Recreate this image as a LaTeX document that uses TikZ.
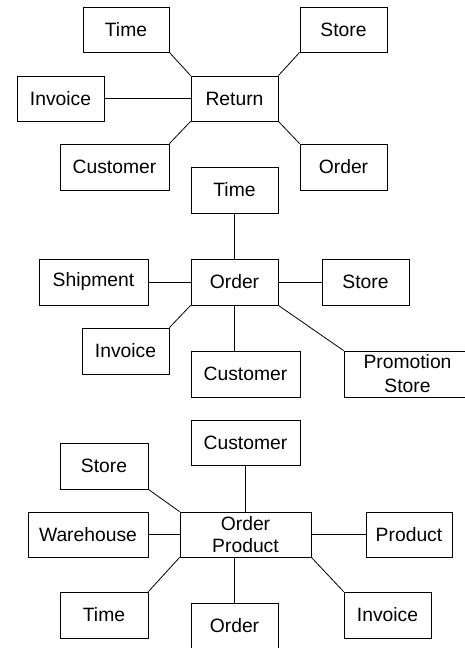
\documentclass[tikz,border=0pt]{standalone}
\usepackage{fontspec}
\setmainfont{Liberation Sans}
\begin{document}
\begin{tikzpicture}[x=1pt,y=-1pt,
  box/.style={draw=black, line width=0.8pt, rectangle, inner sep=0pt,
    align=center, font=\fontsize{19.3}{23}\selectfont},
  link/.style={draw=black, line width=0.8pt}]
\useasboundingbox (0,0) rectangle (465,648);
\clip (0,0) rectangle (465,648);

% Return star
\node[box, minimum width=86pt, minimum height=45pt] (t1) at (126,29.5) {Time};
\node[box, minimum width=87pt, minimum height=45pt] (s1) at (343.5,29.5) {Store};
\node[box, minimum width=87pt, minimum height=45pt] (i1) at (60.5,98.5) {Invoice};
\node[box, minimum width=87pt, minimum height=45pt] (r1) at (234.5,98.5) {Return};
\node[box, minimum width=109pt, minimum height=46pt] (c1) at (114.5,167) {Customer};
\node[box, minimum width=87pt, minimum height=46pt] (o1) at (343.5,167) {Order};
\draw[link] (t1.south east) -- (r1.north west);
\draw[link] (s1.south west) -- (r1.north east);
\draw[link] (i1.east) -- (r1.west);
\draw[link] (c1.north east) -- (r1.south west);
\draw[link] (o1.north west) -- (r1.south east);

% Order star
\node[box, minimum width=87pt, minimum height=46pt] (t2) at (234.5,190) {Time};
\node[box, minimum width=87pt, minimum height=46pt] (o2) at (234.5,282) {Order};
\node[box, minimum width=109pt, minimum height=46pt] (sh2) at (93.5,282) {Shipment};
\node[box, minimum width=87pt, minimum height=46pt] (s2) at (365.5,282) {Store};
\node[box, minimum width=87pt, minimum height=46pt] (i2) at (125.5,351) {Invoice};
\node[box, minimum width=109pt, minimum height=46pt] (c2) at (245.5,374) {Customer};
\node[box, minimum width=127pt, minimum height=46pt, font=\fontsize{19.3}{24}\selectfont] (p2) at (407.5,374) {Promotion\\Store};
\draw[link] (t2.south) -- (o2.north);
\draw[link] (sh2.east) -- (o2.west);
\draw[link] (o2.east) -- (s2.west);
\draw[link] (i2.north east) -- (o2.south west);
\draw[link] (o2.south) -- (o2.south |- c2.north);
\draw[link] (o2.south east) -- (p2.north west);

% Order Product star
\node[box, minimum width=109pt, minimum height=45pt] (c3) at (245.5,442.5) {Customer};
\node[box, minimum width=88pt, minimum height=46pt] (s3) at (104,466) {Store};
\node[box, minimum width=131pt, minimum height=45pt, font=\fontsize{19.3}{22.4}\selectfont] (op3) at (245.5,534.5) {Order\\Product};
\node[box, minimum width=120pt, minimum height=45pt] (w3) at (88,534.5) {Warehouse};
\node[box, minimum width=86pt, minimum height=45pt] (pr3) at (409,534.5) {Product};
\node[box, minimum width=88pt, minimum height=46pt] (t3) at (104,615) {Time};
\node[box, minimum width=87pt, minimum height=46pt] (o3) at (234.5,626) {Order};
\node[box, minimum width=87pt, minimum height=46pt] (i3) at (387.5,615) {Invoice};
\draw[link] (c3.south) -- (op3.north);
\draw[link] (s3.south east) -- (op3.north west);
\draw[link] (w3.east) -- (op3.west);
\draw[link] (op3.east) -- (pr3.west);
\draw[link] (t3.north east) -- (op3.south west);
\draw[link] (o3.north) -- (o3.north |- op3.south);
\draw[link] (i3.north west) -- (op3.south east);
\end{tikzpicture}
\end{document}
